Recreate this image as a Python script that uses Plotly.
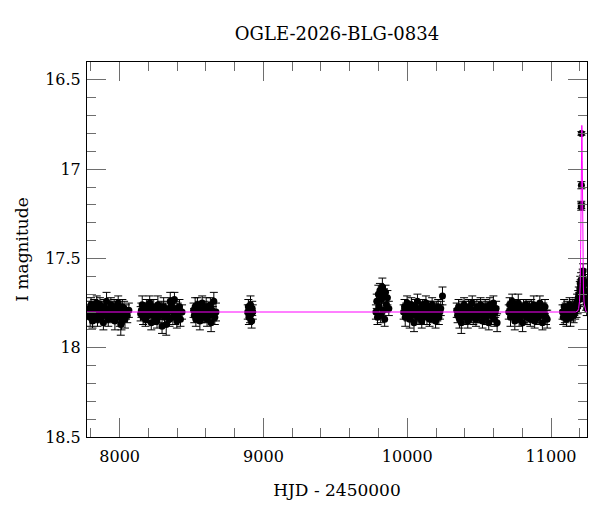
import plotly.graph_objects as go

title_text = "OGLE-2026-BLG-0834"
x_title = "HJD - 2450000"
y_title = "I magnitude"

x_ticks = [8000, 9000, 10000, 11000]
y_ticks = [16.5, 17.0, 17.5, 18.0, 18.5]
y_tick_labels = ["16.5", "17", "17.5", "18", "18.5"]

# Season 1
s1_hjd = [7784, 7789, 7795, 7801, 7806, 7811, 7818, 7823, 7829, 7834, 7841, 7846, 7852, 7858, 7863,
          7870, 7875, 7881, 7887, 7892, 7898, 7904, 7909, 7916, 7921, 7927, 7932, 7939, 7944, 7950,
          7955, 7962, 7967, 7973, 7978, 7985, 7990, 7996, 8001, 8008, 8013, 8019, 8025, 8031, 8037,
          8044, 8053, 8064]
s1_mag = [17.80, 17.78, 17.83, 17.76, 17.81, 17.85, 17.79, 17.77, 17.82, 17.80, 17.75, 17.84, 17.79, 17.81, 17.76,
          17.83, 17.78, 17.80, 17.86, 17.77, 17.82, 17.79, 17.74, 17.81, 17.84, 17.78, 17.80, 17.76, 17.83, 17.79,
          17.81, 17.77, 17.85, 17.80, 17.78, 17.82, 17.75, 17.80, 17.83, 17.87, 17.86, 17.77, 17.81, 17.78, 17.84,
          17.80, 17.82, 17.79]
s1_err = [0.04, 0.04, 0.05, 0.04, 0.03, 0.04, 0.05, 0.04, 0.04, 0.03, 0.04, 0.04, 0.05, 0.04, 0.04,
          0.03, 0.04, 0.05, 0.04, 0.04, 0.04, 0.03, 0.05, 0.04, 0.04, 0.04, 0.05, 0.04, 0.03, 0.04,
          0.04, 0.04, 0.05, 0.04, 0.04, 0.03, 0.04, 0.04, 0.05, 0.06, 0.04, 0.04, 0.03, 0.04, 0.05,
          0.04, 0.04, 0.04]

# Season 2
s2_hjd = [8146, 8151, 8157, 8163, 8168, 8174, 8180, 8186, 8191, 8197, 8203, 8209, 8214, 8220, 8226,
          8232, 8237, 8243, 8249, 8255, 8260, 8266, 8272, 8278, 8283, 8289, 8295, 8301, 8306, 8312,
          8318, 8324, 8329, 8335, 8341, 8347, 8352, 8358, 8364, 8370, 8375, 8381, 8387, 8393, 8398,
          8404, 8410, 8416, 8423, 8434]
s2_mag = [17.81, 17.79, 17.76, 17.83, 17.80, 17.78, 17.84, 17.77, 17.81, 17.79, 17.82, 17.75, 17.80, 17.86, 17.78,
          17.81, 17.77, 17.83, 17.79, 17.80, 17.85, 17.76, 17.82, 17.79, 17.81, 17.78, 17.88, 17.80, 17.77, 17.83,
          17.79, 17.87, 17.82, 17.80, 17.78, 17.84, 17.74, 17.76, 17.79, 17.83, 17.80, 17.73, 17.82, 17.78, 17.85,
          17.79, 17.81, 17.77, 17.84, 17.80]
s2_err = [0.04, 0.04, 0.05, 0.04, 0.04, 0.03, 0.04, 0.04, 0.05, 0.04, 0.04, 0.04, 0.03, 0.04, 0.05,
          0.04, 0.04, 0.04, 0.03, 0.04, 0.04, 0.05, 0.04, 0.04, 0.03, 0.04, 0.04, 0.04, 0.05, 0.04,
          0.04, 0.06, 0.04, 0.03, 0.04, 0.04, 0.05, 0.04, 0.04, 0.04, 0.03, 0.04, 0.05, 0.04, 0.04,
          0.04, 0.03, 0.04, 0.04, 0.04]

# Season 3
s3_hjd = [8514, 8519, 8525, 8530, 8536, 8541, 8547, 8552, 8558, 8563, 8569, 8574, 8580, 8586, 8591,
          8597, 8602, 8608, 8614, 8619, 8625, 8631, 8636, 8642, 8648, 8655, 8662, 8670]
s3_mag = [17.79, 17.82, 17.77, 17.84, 17.80, 17.76, 17.81, 17.78, 17.85, 17.79, 17.82, 17.75, 17.80, 17.83, 17.78,
          17.81, 17.77, 17.84, 17.79, 17.80, 17.82, 17.76, 17.86, 17.79, 17.81, 17.74, 17.83, 17.80]
s3_err = [0.04, 0.04, 0.05, 0.04, 0.04, 0.04, 0.03, 0.04, 0.05, 0.04, 0.04, 0.04, 0.04, 0.03, 0.04,
          0.04, 0.05, 0.04, 0.04, 0.04, 0.03, 0.04, 0.05, 0.04, 0.04, 0.05, 0.04, 0.05]

# Season 4
s4_hjd = [8891, 8895, 8899, 8903, 8907, 8910, 8914, 8918, 8922, 8926]
s4_mag = [17.80, 17.77, 17.83, 17.79, 17.82, 17.76, 17.81, 17.85, 17.78, 17.80]
s4_err = [0.04, 0.04, 0.04, 0.03, 0.04, 0.05, 0.04, 0.04, 0.04, 0.04]

# Season 5
s5_hjd = [9782, 9788, 9793, 9799, 9804, 9810, 9815, 9821, 9827, 9832, 9838, 9843, 9849, 9855, 9862, 9872]
s5_mag = [17.80, 17.74, 17.83, 17.70, 17.77, 17.68, 17.82, 17.73, 17.66, 17.79, 17.71, 17.84, 17.69, 17.76, 17.72, 17.78]
s5_err = [0.04, 0.04, 0.04, 0.05, 0.04, 0.04, 0.04, 0.05, 0.05, 0.04, 0.04, 0.04, 0.04, 0.04, 0.04, 0.04]

# Season 6
s6_hjd = [9975, 9981, 9986, 9993, 9999, 10004, 10011, 10017, 10022, 10029, 10035, 10040, 10047, 10053, 10058,
          10065, 10071, 10076, 10083, 10089, 10094, 10101, 10107, 10112, 10119, 10125, 10130, 10137, 10143, 10148,
          10155, 10161, 10166, 10173, 10179, 10184, 10191, 10197, 10202, 10209, 10215, 10220, 10227, 10233, 10245]
s6_mag = [17.80, 17.77, 17.83, 17.79, 17.75, 17.82, 17.78, 17.84, 17.80, 17.76, 17.81, 17.79, 17.86, 17.77, 17.82,
          17.80, 17.74, 17.83, 17.78, 17.81, 17.79, 17.85, 17.76, 17.80, 17.82, 17.78, 17.75, 17.83, 17.80, 17.77,
          17.84, 17.79, 17.81, 17.76, 17.82, 17.80, 17.78, 17.85, 17.79, 17.81, 17.77, 17.83, 17.80, 17.78, 17.71]
s6_err = [0.04, 0.04, 0.05, 0.04, 0.04, 0.03, 0.04, 0.05, 0.04, 0.04, 0.04, 0.04, 0.05, 0.04, 0.03,
          0.04, 0.04, 0.04, 0.05, 0.04, 0.04, 0.04, 0.03, 0.04, 0.05, 0.04, 0.04, 0.04, 0.04, 0.03,
          0.04, 0.05, 0.04, 0.04, 0.04, 0.04, 0.03, 0.04, 0.05, 0.04, 0.04, 0.04, 0.04, 0.04, 0.05]

# Season 7
s7_hjd = [10344, 10350, 10357, 10363, 10370, 10376, 10382, 10389, 10395, 10401, 10408, 10414, 10421, 10427, 10433,
          10440, 10446, 10452, 10459, 10465, 10472, 10478, 10484, 10491, 10497, 10503, 10510, 10516, 10523, 10529,
          10535, 10542, 10548, 10554, 10561, 10567, 10574, 10580, 10586, 10593, 10599, 10605, 10612, 10618, 10625]
s7_mag = [17.79, 17.82, 17.77, 17.84, 17.80, 17.86, 17.78, 17.81, 17.76, 17.83, 17.79, 17.80, 17.85, 17.77, 17.82,
          17.78, 17.81, 17.75, 17.83, 17.80, 17.79, 17.84, 17.77, 17.81, 17.78, 17.82, 17.76, 17.80, 17.85, 17.79,
          17.81, 17.77, 17.83, 17.78, 17.80, 17.86, 17.76, 17.82, 17.79, 17.81, 17.75, 17.84, 17.80, 17.78, 17.86]
s7_err = [0.04, 0.04, 0.04, 0.05, 0.04, 0.06, 0.04, 0.03, 0.04, 0.04, 0.05, 0.04, 0.04, 0.04, 0.03,
          0.04, 0.05, 0.04, 0.04, 0.04, 0.03, 0.04, 0.04, 0.05, 0.04, 0.04, 0.04, 0.03, 0.04, 0.04,
          0.05, 0.04, 0.04, 0.04, 0.03, 0.04, 0.04, 0.05, 0.04, 0.04, 0.04, 0.04, 0.03, 0.04, 0.05]

# Season 8
s8_hjd = [10706, 10712, 10718, 10724, 10730, 10736, 10742, 10748, 10754, 10760, 10766, 10772, 10778, 10784, 10790,
          10796, 10802, 10808, 10814, 10820, 10826, 10832, 10838, 10844, 10850, 10856, 10862, 10868, 10874, 10880,
          10886, 10892, 10898, 10904, 10910, 10916, 10922, 10928, 10934, 10940, 10946, 10952, 10958, 10965, 10973]
s8_mag = [17.80, 17.76, 17.83, 17.78, 17.74, 17.81, 17.79, 17.85, 17.77, 17.82, 17.80, 17.75, 17.84, 17.78, 17.81,
          17.79, 17.86, 17.77, 17.82, 17.80, 17.76, 17.83, 17.79, 17.81, 17.78, 17.84, 17.77, 17.80, 17.82, 17.76,
          17.85, 17.79, 17.81, 17.78, 17.83, 17.80, 17.75, 17.82, 17.79, 17.86, 17.78, 17.81, 17.77, 17.83, 17.84]
s8_err = [0.04, 0.04, 0.05, 0.04, 0.04, 0.03, 0.04, 0.05, 0.04, 0.04, 0.04, 0.05, 0.04, 0.03, 0.04,
          0.04, 0.05, 0.04, 0.04, 0.04, 0.03, 0.04, 0.05, 0.04, 0.04, 0.04, 0.04, 0.03, 0.04, 0.05,
          0.04, 0.04, 0.04, 0.03, 0.04, 0.05, 0.04, 0.04, 0.04, 0.04, 0.03, 0.04, 0.04, 0.04, 0.05]

# Season 9 (event season)
s9_hjd = [11080, 11085, 11091, 11096, 11102, 11107, 11113, 11118, 11124, 11129, 11135, 11140, 11146, 11151, 11157,
          11162, 11168, 11172, 11177, 11181, 11185, 11189, 11193, 11197, 11200, 11203, 11206,
          11209, 11210, 11210, 11211, 11211,
          11220, 11223, 11226, 11229, 11232, 11236, 11240, 11244, 11248]
s9_mag = [17.80, 17.83, 17.77, 17.81, 17.79, 17.84, 17.78, 17.82, 17.80, 17.76, 17.83, 17.79, 17.81, 17.77, 17.82,
          17.78, 17.80, 17.76, 17.79, 17.74, 17.77, 17.72, 17.70, 17.73, 17.67, 17.64, 17.66,
          17.62, 17.21, 17.20, 17.09, 16.80,
          17.60, 17.57, 17.65, 17.68, 17.63, 17.72, 17.70, 17.75, 17.78]
s9_err = [0.04, 0.04, 0.04, 0.05, 0.04, 0.04, 0.04, 0.03, 0.04, 0.04, 0.05, 0.04, 0.04, 0.04, 0.04,
          0.04, 0.04, 0.04, 0.04, 0.04, 0.04, 0.04, 0.04, 0.04, 0.04, 0.04, 0.04,
          0.04, 0.02, 0.02, 0.02, 0.01,
          0.04, 0.04, 0.04, 0.04, 0.04, 0.04, 0.04, 0.04, 0.04]

# Microlensing model curve
model_hjd = [7773, 11170, 11185, 11192, 11198, 11203, 11206, 11209, 11211, 11213, 11214, 11215, 11217,
             11219, 11222, 11225, 11230, 11236, 11243, 11250]
model_mag = [17.80, 17.80, 17.795, 17.78, 17.74, 17.64, 17.45, 17.15, 16.92, 16.78, 16.755, 16.78, 16.95,
             17.2, 17.5, 17.66, 17.75, 17.785, 17.797, 17.80]

hjd = s1_hjd + s2_hjd + s3_hjd + s4_hjd + s5_hjd + s6_hjd + s7_hjd + s8_hjd + s9_hjd
mag = s1_mag + s2_mag + s3_mag + s4_mag + s5_mag + s6_mag + s7_mag + s8_mag + s9_mag
err = s1_err + s2_err + s3_err + s4_err + s5_err + s6_err + s7_err + s8_err + s9_err

serif = "DejaVu Serif"
tick_col = "#6e6e6e"

fig = go.Figure()
fig.add_trace(go.Scatter(
    x=hjd, y=mag, mode="markers",
    marker=dict(color="black", size=7),
    error_y=dict(type="data", array=err, visible=True, color="black", thickness=1, width=4),
    hoverinfo="x+y",
))
fig.add_trace(go.Scatter(
    x=model_hjd, y=model_mag, mode="lines",
    line=dict(color="#ff00ff", width=1),
    hoverinfo="skip",
))

fig.update_layout(
    width=600, height=512,
    margin=dict(l=87, r=13, t=62, b=75, autoexpand=False),
    paper_bgcolor="white", plot_bgcolor="white",
    showlegend=False,
    font=dict(family=serif, color="black", size=16),
    title=dict(text=title_text, x=0.5, xref="paper", xanchor="center",
               y=1 - 34 / 512, yref="container", yanchor="middle",
               font=dict(family=serif, size=18, color="black")),
)
fig.update_xaxes(
    range=[7773, 11250], tickvals=x_ticks, ticktext=[str(v) for v in x_ticks],
    ticks="inside", ticklen=19, tickwidth=1, tickcolor=tick_col,
    minor=dict(ticks="inside", ticklen=9, dtick=200, tick0=0, tickcolor=tick_col, tickwidth=1, showgrid=False),
    showline=True, linecolor="black", linewidth=1, mirror="ticks",
    showgrid=False, zeroline=False, automargin=False, ticklabelstandoff=5,
    tickfont=dict(family=serif, size=16, color="black"),
    title=dict(text=x_title, font=dict(family=serif, size=17, color="black"), standoff=18),
)
fig.update_yaxes(
    range=[18.5, 16.4], tickvals=y_ticks, ticktext=y_tick_labels,
    ticks="inside", ticklen=19, tickwidth=1, tickcolor=tick_col,
    minor=dict(ticks="inside", ticklen=9, dtick=0.1, tick0=16.5, tickcolor=tick_col, tickwidth=1, showgrid=False),
    showline=True, linecolor="black", linewidth=1, mirror="ticks",
    showgrid=False, zeroline=False, automargin=False, ticklabelstandoff=2,
    tickfont=dict(family=serif, size=16, color="black"),
    title=dict(text=y_title, font=dict(family=serif, size=17, color="black"), standoff=12),
)

fig.write_html("out.html", config={"displayModeBar": False},
               post_script="document.body.style.margin='0';document.body.style.padding='0';")
